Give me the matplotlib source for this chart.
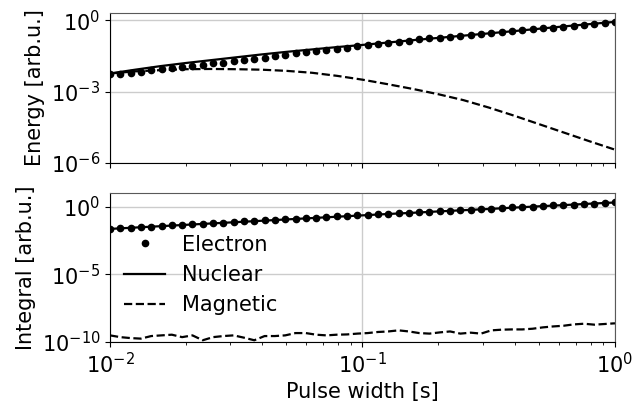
import matplotlib
matplotlib.use("Agg")
import matplotlib.pyplot as plt
import numpy as np
from matplotlib.ticker import NullLocator

# pulse widths of the sampled points (log grid, 0.01 .. 1 s)
pulse_width = np.logspace(-2, 0, 50)
line_width = np.logspace(-2, 0, 21)

# energy panel, log10 of values
electron_energy = [-2.28, -2.25, -2.21, -2.16, -2.10, -2.05, -1.99, -1.95, -1.91, -1.87,
                   -1.82, -1.78, -1.73, -1.68, -1.62, -1.57, -1.50, -1.45, -1.40, -1.35,
                   -1.30, -1.25, -1.20, -1.15, -1.10, -1.05, -1.00, -0.95, -0.91, -0.86,
                   -0.81, -0.77, -0.73, -0.69, -0.65, -0.62, -0.58, -0.54, -0.50, -0.46,
                   -0.43, -0.39, -0.35, -0.31, -0.27, -0.23, -0.19, -0.15, -0.11, -0.07]
nuclear_energy = [-2.24, -2.08, -1.93, -1.80, -1.68, -1.56, -1.44, -1.33, -1.23, -1.13,
                  -1.04, -0.94, -0.84, -0.745, -0.65, -0.555, -0.46, -0.36, -0.26, -0.165, -0.07]
magnetic_energy = [-2.24, -2.15, -2.10, -2.06, -2.05, -2.06, -2.08, -2.13, -2.21, -2.34,
                   -2.50, -2.69, -2.89, -3.11, -3.36, -3.67, -4.01, -4.37, -4.73, -5.09, -5.44]

# integral panel, log10 values
electron_integral = [-1.65, -1.61, -1.56, -1.52, -1.48, -1.43, -1.39, -1.35, -1.31, -1.26,
                     -1.22, -1.18, -1.14, -1.10, -1.06, -1.01, -0.97, -0.93, -0.89, -0.85,
                     -0.81, -0.77, -0.73, -0.69, -0.65, -0.61, -0.57, -0.53, -0.49, -0.45,
                     -0.41, -0.38, -0.34, -0.30, -0.26, -0.22, -0.18, -0.15, -0.11, -0.07,
                     -0.03, 0.00, 0.04, 0.08, 0.11, 0.15, 0.19, 0.22, 0.26, 0.30]
nuclear_integral = [-1.65, -1.55, -1.45, -1.35, -1.25, -1.15, -1.05, -0.95, -0.85, -0.75,
                    -0.65, -0.55, -0.46, -0.36, -0.27, -0.18, -0.08, 0.02, 0.11, 0.21, 0.30]
magnetic_integral = [-9.51, -9.64, -9.71, -9.75, -9.56, -9.51, -9.46, -9.64, -9.51, -9.87,
                     -9.64, -9.56, -9.51, -9.68, -9.87, -9.56, -9.56, -9.51, -9.34, -9.34,
                     -9.46, -9.51, -9.46, -9.44, -9.38, -9.34, -9.26, -9.22, -9.14, -9.22,
                     -9.34, -9.38, -9.29, -9.22, -9.38, -9.31, -9.38, -9.14, -9.09, -9.07,
                     -9.07, -9.02, -8.92, -8.85, -8.80, -8.70, -8.65, -8.72, -8.67, -8.62]

fs = 15

fig = plt.figure(figsize=(6.34, 4.01), dpi=100)
ax1 = fig.add_axes([0.1735, 0.5935, 0.7965, 0.3741])
ax2 = fig.add_axes([0.1735, 0.1471, 0.7965, 0.3716], sharex=ax1)

ax1.plot(pulse_width, 10 ** np.array(electron_energy), "k.", ms=9, label="Electron")
ax1.plot(line_width, 10 ** np.array(nuclear_energy), "k-", lw=1.6, label="Nuclear")
ax1.plot(line_width, 10 ** np.array(magnetic_energy), "k--", lw=1.6, label="Magnetic")

ax2.plot(pulse_width, 10 ** np.array(electron_integral), "k.", ms=9, label="Electron")
ax2.plot(line_width, 10 ** np.array(nuclear_integral), "k-", lw=1.6, label="Nuclear")
ax2.plot(pulse_width, 10 ** np.array(magnetic_integral), "k--", lw=1.6, label="Magnetic")

for ax in (ax1, ax2):
    ax.set_xscale("log")
    ax.set_yscale("log")
    ax.grid(True, which="major", color="0.8", lw=1)
    ax.yaxis.set_minor_locator(NullLocator())
    ax.tick_params(labelsize=fs)
    ax.spines["top"].set_color("0.35")
    ax.spines["right"].set_color("0.35")

ax1.set_xlim(0.01, 1)
ax1.set_ylim(1e-6, 2)
ax1.set_yticks([1e-6, 1e-3, 1e0])
ax1.yaxis.set_minor_locator(NullLocator())
ax1.tick_params(labelbottom=False)
ax1.set_ylabel("Energy [arb.u.]", fontsize=fs)

ax2.set_ylim(1e-10, 10)
ax2.set_yticks([1e-10, 1e-5, 1e0])
ax2.yaxis.set_minor_locator(NullLocator())
ax2.set_ylabel("Integral [arb.u.]", fontsize=fs)
ax2.set_xlabel("Pulse width [s]", fontsize=fs)
ax2.legend(loc="center left", bbox_to_anchor=(-0.01, 0.45), frameon=False,
           fontsize=fs, numpoints=1)

fig.savefig("out.png", dpi=100)
